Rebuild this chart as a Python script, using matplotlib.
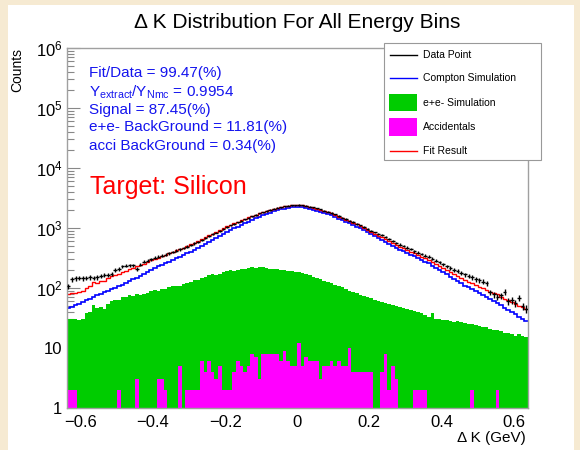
import numpy as np
import matplotlib
matplotlib.use("Agg")
import matplotlib.pyplot as plt
from matplotlib.patches import Rectangle
from matplotlib.lines import Line2D
from matplotlib.ticker import NullFormatter

plt.rcParams['font.family'] = ['Liberation Sans', 'DejaVu Sans']
plt.rcParams['mathtext.fontset'] = 'custom'
plt.rcParams['mathtext.rm'] = 'Liberation Sans'
plt.rcParams['mathtext.it'] = 'Liberation Sans'

# 128 bins of 0.01 GeV from -0.64 to 0.64
edges = np.linspace(-0.64, 0.64, 129)

# accidentals (magenta)
acci = [2, 2, 2, 0, 0, 0, 0, 0, 0, 0, 0, 0, 0, 0, 2, 0, 0, 0, 0, 3,
        0, 0, 0, 0, 0, 3, 3, 2, 0, 0, 0, 5, 0, 2, 2, 2, 2, 6, 4, 6,
        4, 3, 5, 2, 2, 2, 4, 6, 5, 4, 5, 8, 7, 3, 8, 8, 8, 8, 8, 6,
        9, 6, 5, 5, 12, 5, 7, 6, 6, 6, 3, 5, 5, 6, 5, 6, 5, 5, 10, 4,
        4, 4, 4, 4, 4, 0, 0, 4, 8, 2, 5, 3, 0, 0, 0, 0, 2, 2, 2, 2,
        0, 0, 0, 0, 0, 0, 0, 0, 0, 0, 0, 0, 2, 0, 0, 0, 0, 0, 0, 2,
        0, 0, 0, 0, 0, 0, 0, 0]

# e+e- simulation (green)
epem = [30, 31, 30, 29, 30, 38, 40, 52, 47, 48, 45, 55, 60, 63, 62, 70,
        72, 75, 73, 78, 77, 80, 82, 88, 92, 90, 95, 97, 103, 106, 110, 108,
        115, 120, 128, 135, 138, 145, 155, 162, 168, 165, 172, 185, 190, 198, 195, 202,
        205, 210, 215, 222, 218, 225, 220, 215, 210, 205, 208, 200, 198, 195, 190, 188,
        186, 180, 172, 165, 155, 148, 140, 130, 125, 120, 112, 108, 103, 95, 90, 87,
        83, 77, 74, 70, 67, 64, 61, 58, 56, 55, 53, 51, 49, 47, 45, 43,
        41, 40, 38, 35, 33, 38, 31, 30, 29, 29, 28, 27, 28, 27, 26, 25,
        25, 24, 23, 22, 22, 21, 20, 20, 19, 18, 18, 17, 16, 17, 16, 15]

# Compton simulation (blue)
compton = [46, 49, 52, 55, 59, 62, 66, 71, 75, 80, 85, 90, 95, 101, 107, 114,
           120, 129, 139, 149, 160, 172, 185, 199, 213, 229, 244, 259, 276, 294, 313, 333,
           354, 377, 401, 427, 462, 500, 541, 586, 634, 687, 743, 805, 871, 929, 990, 1055,
           1125, 1199, 1279, 1363, 1453, 1549, 1633, 1718, 1803, 1884, 1963, 2037, 2104, 2163, 2203, 2228,
           2228, 2203, 2153, 2094, 2028, 1954, 1875, 1795, 1710, 1629, 1531, 1439, 1355, 1274, 1197, 1127,
           1059, 995, 933, 865, 800, 741, 687, 635, 589, 546, 505, 468, 438, 409, 383, 358,
           336, 314, 294, 275, 257, 236, 217, 199, 183, 168, 154, 142, 130, 119, 110, 102,
           95, 88, 81, 76, 70, 65, 61, 56, 52, 47, 43, 40, 37, 33, 31, 28]

# fit result (red)
fit = [78, 82, 84, 85, 90, 101, 107, 124, 123, 129, 131, 146, 156, 165, 171, 185,
       193, 205, 213, 230, 238, 253, 268, 288, 306, 322, 342, 358, 380, 401, 424, 446,
       470, 499, 531, 564, 602, 651, 700, 754, 806, 855, 920, 992, 1063, 1129, 1189, 1263,
       1335, 1413, 1499, 1593, 1678, 1777, 1861, 1941, 2021, 2097, 2179, 2243, 2311, 2364, 2398, 2421,
       2426, 2388, 2332, 2265, 2189, 2108, 2018, 1930, 1840, 1755, 1648, 1553, 1463, 1374, 1297, 1218,
       1146, 1076, 1011, 939, 871, 806, 749, 697, 653, 603, 563, 522, 488, 457, 429, 402,
       379, 356, 334, 312, 291, 275, 249, 230, 213, 198, 183, 170, 159, 147, 137, 128,
       122, 113, 105, 99, 93, 87, 82, 78, 72, 66, 62, 58, 54, 51, 48, 44]

# data points (black)
data = [108, 140, 145, 147, 145, 148, 150, 146, 150, 160, 165, 163, 170, 200, 208, 230,
        235, 240, 238, 207, 245, 275, 285, 300, 320, 330, 345, 360, 378, 398, 420, 440,
        462, 490, 520, 552, 590, 635, 685, 738, 790, 840, 900, 970, 1040, 1105, 1170, 1240,
        1310, 1390, 1475, 1570, 1655, 1750, 1840, 1920, 2000, 2080, 2160, 2230, 2290, 2350, 2390, 2410,
        2420, 2395, 2340, 2275, 2200, 2120, 2035, 1950, 1860, 1775, 1680, 1585, 1495, 1410, 1330, 1250,
        1175, 1105, 1045, 975, 905, 845, 790, 760, 700, 650, 610, 570, 530, 500, 470, 445,
        410, 390, 370, 345, 330, 305, 285, 270, 250, 230, 215, 200, 190, 180, 168, 160,
        150, 140, 135, 128, 120, 85, 78, 72, 75, 87, 60, 63, 56, 68, 50, 45]

stats = ["Fit/Data = 99.47(%)",
         r"Y$_{\rm extract}$/Y$_{\rm Nmc}$ = 0.9954",
         "Signal = 87.45(%)",
         "e+e- BackGround = 11.81(%)",
         "acci BackGround = 0.34(%)"]

W, H = 580, 450
fig = plt.figure(figsize=(W / 100, H / 100), dpi=100, facecolor='#f6ead2')
fig.patches.append(Rectangle((8 / W, 0), 566 / W, 445 / H, transform=fig.transFigure,
                             facecolor='white', edgecolor='none', zorder=-10))

ax = fig.add_axes([66.5 / W, 42 / H, 461.5 / W, 360 / H])
ax.set_yscale('log')
ax.set_xlim(-0.64, 0.64)
ax.set_ylim(1, 1e6)
ax.set_axisbelow(True)

ax.stairs(epem, edges, fill=True, color='#00cc00', baseline=1, zorder=1)
ax.stairs(np.clip(acci, 1, None), edges, fill=True, color='#ff00ff', baseline=1, zorder=1.1)
ax.stairs(compton, edges, color='#0000ff', lw=1.2, baseline=None, zorder=2)
ax.stairs(fit, edges, color='#ff0000', lw=1.0, baseline=None, zorder=2.1)
centers = 0.5 * (edges[:-1] + edges[1:])
ax.errorbar(centers, data, xerr=0.005, yerr=np.sqrt(data), fmt='none',
            ecolor='black', elinewidth=1.0, zorder=3)

for s in ax.spines.values():
    s.set_color('#a0a0a0')
    s.set_linewidth(1)

ax.set_yticks([1, 10, 1e2, 1e3, 1e4, 1e5, 1e6])
ax.set_yticklabels(['1', '10', '$10^{2}$', '$10^{3}$', '$10^{4}$', '$10^{5}$', '$10^{6}$'])
ax.yaxis.set_minor_formatter(NullFormatter())
ax.tick_params(axis='y', which='major', direction='in', length=9, width=0.8,
               color='#888888', labelsize=12, pad=3)
ax.tick_params(axis='y', which='minor', direction='in', length=5, width=0.8, color='#888888')
ax.set_xticks([-0.6, -0.4, -0.2, 0, 0.2, 0.4, 0.6])
ax.set_xticklabels(['\u22120.6', '\u22120.4', '\u22120.2', '0', '0.2', '0.4', '0.6'])
ax.tick_params(axis='x', which='both', length=0, labelsize=12, pad=5)

fig.text(297 / W, 1 - 28 / H, "\u0394 K Distribution For All Energy Bins", ha='center',
         va='baseline', fontsize=15)
fig.text(17 / W, 1 - 48 / H, "Counts", rotation=90, ha='center', va='top', fontsize=10)
fig.text(526 / W, 1 - 438 / H, "\u0394 K (GeV)", ha='right', va='center', fontsize=11)

stat_y = [73, 92, 110, 127.5, 146]
for txt, yy in zip(stats, stat_y):
    fig.text(89 / W, 1 - yy / H, txt, ha='left', va='center', fontsize=11, color='#1414ee')
fig.text(90 / W, 1 - 187 / H, "Target: Silicon", ha='left', va='center', fontsize=18,
         color='#ff0000')

# legend box drawn in pixel positions
def fx(x):
    return x / W

def fy(y):
    return 1 - y / H

fig.patches.append(Rectangle((fx(384), fy(160)), (541 - 384) / W, (160 - 43) / H,
                             transform=fig.transFigure, facecolor='white',
                             edgecolor='#999999', lw=0.8, zorder=5))
leg = [("Data Point", 'line', 'black', 54.7),
       ("Compton Simulation", 'line', '#0000ff', 78),
       ("e+e- Simulation", 'box', '#00cc00', 102.5),
       ("Accidentals", 'box', '#ff00ff', 127),
       ("Fit Result", 'line', '#ff0000', 151)]
for label, kind, col, yy in leg:
    if kind == 'line':
        fig.lines.append(Line2D([fx(390), fx(417)], [fy(yy), fy(yy)], color=col, lw=1,
                                transform=fig.transFigure, zorder=6))
    else:
        fig.patches.append(Rectangle((fx(389), fy(yy + 8.5)), 28 / W, 17 / H,
                                     transform=fig.transFigure, facecolor=col,
                                     edgecolor='none', zorder=6))
    fig.text(fx(423), fy(yy), label, ha='left', va='center', fontsize=7.5, zorder=7)

fig.savefig("out.png", dpi=100, facecolor=fig.get_facecolor())
